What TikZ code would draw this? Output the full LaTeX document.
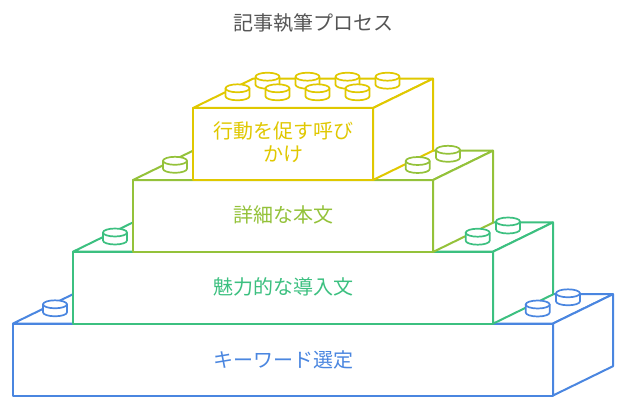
\documentclass[tikz,border=0pt]{standalone}
\usepackage{fontspec}
\setmainfont{Noto Sans CJK JP}
\definecolor{blueb}{HTML}{4A86E0}
\definecolor{greenb}{HTML}{3CC080}
\definecolor{oliveb}{HTML}{94C23A}
\definecolor{yellowb}{HTML}{E0C800}
\definecolor{titlegray}{HTML}{555555}
\tikzset{
  brick/.style={line width=2pt, line join=round, fill=white},
  studpart/.style={line width=1.7pt, line join=round, fill=white},
  label/.style={font=\fontsize{20}{23}\selectfont, align=center, inner sep=0pt}
}
\newcommand{\stud}[3]{%
  \draw[studpart, draw=#1] (#2-12,#3) -- ++(0,8)
    arc[start angle=180, end angle=0, x radius=12, y radius=4] -- ++(0,-8) -- cycle;
  \draw[studpart, draw=#1] (#2,#3) ellipse[x radius=12, y radius=4];
}

\begin{document}
\begin{tikzpicture}[x=1pt, y=-1pt]
  \useasboundingbox (0,0) rectangle (626,409);
  \newcommand{\dx}{60}
  \newcommand{\dy}{29.3}
  % bricks, bottom to top
  \foreach \l/\r/\t/\c in {13/553/323.5/blueb, 73/493/251.7/greenb,
                           133/433/180/oliveb, 193/373/108/yellowb} {
    \draw[brick, draw=\c] (\l,\t) rectangle (\r,\t+72);
    \draw[brick, draw=\c] (\l,\t) -- ++(\dx,-\dy) -- (\r+\dx,\t-\dy) -- (\r,\t) -- cycle;
    \draw[brick, draw=\c] (\r,\t) -- ++(\dx,-\dy) -- ++(0,72) -- (\r,\t+72) -- cycle;
  }

  % studs
  \foreach \l/\r/\t/\c in {13/553/323.5/blueb, 73/493/251.7/greenb,
                           133/433/180/oliveb} {
    \stud{\c}{\l+42}{\t-19.2}
    \stud{\c}{\r+15}{\t-30.2}
    \stud{\c}{\r-15.3}{\t-19}
  }
  \foreach \x in {0, 1, 2, 3} {
    \stud{yellowb}{267.5+40*\x}{76.7}
  }
  \foreach \x in {0, 1, 2, 3} {
    \stud{yellowb}{237.5+40*\x}{88.3}
  }

  \node[label, text=titlegray] (title) at (313,22.8) {記事執筆プロセス};
  \node[label, text=yellowb] (cta) at (283,142.5) {行動を促す呼び\\かけ};
  \node[label, text=oliveb] (body) at (283,214.5) {詳細な本文};
  \node[label, text=greenb] (intro) at (283,287) {魅力的な導入文};
  \node[label, text=blueb] (keyword) at (283,360) {キーワード選定};
\end{tikzpicture}
\end{document}
